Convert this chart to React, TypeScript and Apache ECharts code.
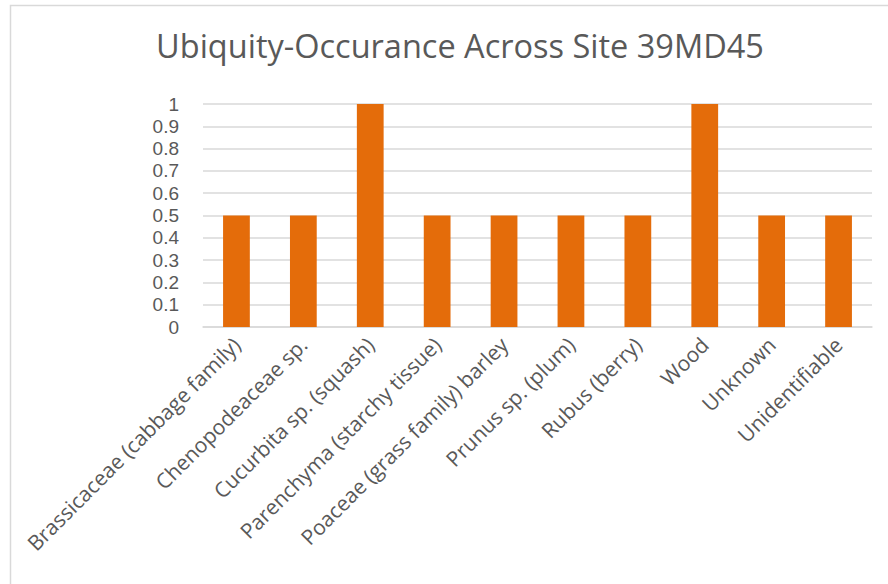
import React, { useEffect, useRef } from "react";
import * as echarts from "echarts";

const categories = [
  "Brassicaceae (cabbage family)",
  "Chenopodeaceae sp.",
  "Cucurbita sp. (squash)",
  "Parenchyma (starchy tissue)",
  "Poaceae (grass family) barley",
  "Prunus sp. (plum)",
  "Rubus (berry)",
  "Wood",
  "Unknown",
  "Unidentifiable",
];
const values = [0.5, 0.5, 1, 0.5, 0.5, 0.5, 0.5, 1, 0.5, 0.5];
const titleText = "Ubiquity-Occurance Across Site 39MD45";

export default function App() {
  const ref = useRef<HTMLDivElement>(null);
  useEffect(() => {
    if (!ref.current) return;
    const chart = echarts.init(ref.current, undefined, { renderer: "svg" });
    const font = "'Open Sans', Calibri, sans-serif";
    chart.setOption({
      animation: false,
      backgroundColor: "#ffffff",
      title: {
        text: titleText,
        left: 455,
        top: 24,
        textAlign: "center",
        textStyle: { fontFamily: font, fontSize: 32.5, fontWeight: "normal", color: "#595959" },
      },
      graphic: [
        {
          type: "rect",
          shape: { x: 10.5, y: 5.5, width: 1000, height: 1000 },
          style: { fill: "none", stroke: "#d9d9d9", lineWidth: 1.5 },
          silent: true,
        },
      ],
      grid: { left: 203, right: 16, top: 104, bottom: 257, containLabel: false },
      xAxis: {
        type: "category",
        data: categories,
        axisLine: { lineStyle: { color: "#d9d9d9", width: 1.5 } },
        axisTick: { show: false },
        axisLabel: {
          interval: 0,
          rotate: 45,
          margin: 14,
          fontFamily: font,
          fontSize: 21,
          color: "#595959",
        },
      },
      yAxis: {
        type: "value",
        min: 0,
        max: 1,
        interval: 0.1,
        axisLine: { show: false },
        axisTick: { show: false },
        splitLine: { lineStyle: { color: "#d9d9d9", width: 1.5 } },
        axisLabel: {
          margin: 24,
          fontFamily: "'Liberation Sans', Arial, sans-serif",
          fontSize: 19,
          lineHeight: 20,
          color: "#595959",
          formatter: (v: number) => String(Math.round(v * 10) / 10),
        },
      },
      series: [
        {
          type: "bar",
          data: values,
          barWidth: "40%",
          itemStyle: { color: "#E46C0A" },
        },
      ],
    });
    return () => chart.dispose();
  }, []);
  return (
    <div
      ref={ref}
      style={{ position: "fixed", left: 0, top: 0, width: 888, height: 584 }}
    />
  );
}
